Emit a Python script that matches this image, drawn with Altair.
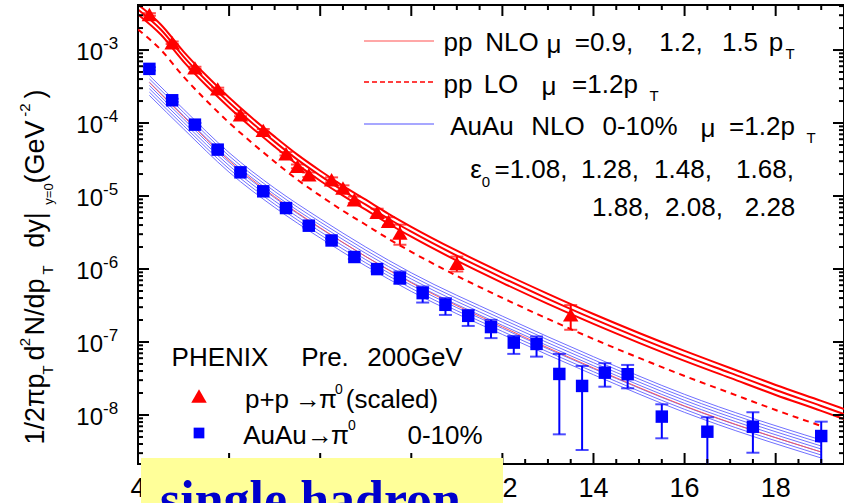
import altair as alt
import pandas as pd

# ---------------- data ----------------
nlo_pt = [4.0, 4.5, 5.0, 5.5, 6.0, 6.5, 7.0, 7.5, 8.0, 8.5, 9.0, 9.5, 10.0,
          11.0, 12.0, 13.0, 14.0, 15.0, 16.0, 17.0, 18.0, 19.0, 19.5]
nlo_mu09 = [4.20e-3, 2.24e-3, 9.53e-4, 4.47e-4, 2.24e-4, 1.18e-4, 6.51e-5, 3.69e-5,
            2.22e-5, 1.38e-5, 8.90e-6, 5.71e-6, 3.79e-6, 1.78e-6, 8.86e-7, 4.57e-7,
            2.42e-7, 1.33e-7, 7.55e-8, 4.41e-8, 2.58e-8, 1.56e-8, 1.21e-8]
nlo_mu12 = [3.59e-3, 1.91e-3, 8.14e-4, 3.82e-4, 1.91e-4, 1.01e-4, 5.56e-5, 3.15e-5,
            1.90e-5, 1.18e-5, 7.60e-6, 4.88e-6, 3.24e-6, 1.52e-6, 7.57e-7, 3.90e-7,
            2.07e-7, 1.14e-7, 6.45e-8, 3.77e-8, 2.20e-8, 1.33e-8, 1.03e-8]
nlo_mu15 = [3.07e-3, 1.63e-3, 6.95e-4, 3.26e-4, 1.63e-4, 8.63e-5, 4.75e-5, 2.69e-5,
            1.62e-5, 1.01e-5, 6.49e-6, 4.17e-6, 2.77e-6, 1.30e-6, 6.46e-7, 3.33e-7,
            1.77e-7, 9.74e-8, 5.51e-8, 3.22e-8, 1.88e-8, 1.14e-8, 8.80e-9]

lo_pt = [4.0, 4.5, 5.0, 5.5, 6.0, 6.5, 7.0, 7.5, 8.0, 8.5, 9.0, 9.5, 10.0,
         11.0, 12.0, 13.0, 14.0, 15.0, 16.0, 17.0, 18.0, 19.0]
lo_mu12 = [1.91e-3, 1.01e-3, 4.32e-4, 2.03e-4, 1.01e-4, 5.36e-5, 2.95e-5, 1.67e-5,
           1.01e-5, 6.27e-6, 4.04e-6, 2.59e-6, 1.72e-6, 8.07e-7, 4.02e-7, 2.07e-7,
           1.10e-7, 6.05e-8, 3.42e-8, 2.00e-8, 1.17e-8, 7.06e-9]

aa_pt = [4.25, 5.0, 6.0, 7.0, 8.0, 10.0, 12.0, 14.0, 16.0, 19.0]
aa_eps_labels = ["1.08", "1.28", "1.48", "1.68", "1.88", "2.08", "2.28"]
aa_e108 = [4.47e-4, 1.551e-4, 3.926e-5, 1.280e-5, 4.884e-6, 8.869e-7, 2.259e-7, 6.286e-8, 1.917e-8, 4.541e-9]
aa_e128 = [4.02e-4, 1.398e-4, 3.543e-5, 1.157e-5, 4.415e-6, 8.042e-7, 2.052e-7, 5.718e-8, 1.744e-8, 4.130e-9]
aa_e148 = [3.63e-4, 1.259e-4, 3.198e-5, 1.045e-5, 3.991e-6, 7.291e-7, 1.863e-7, 5.201e-8, 1.586e-8, 3.757e-9]
aa_e168 = [3.27e-4, 1.135e-4, 2.886e-5, 9.450e-6, 3.607e-6, 6.611e-7, 1.692e-7, 4.731e-8, 1.443e-8, 3.417e-9]
aa_e188 = [2.95e-4, 1.023e-4, 2.605e-5, 8.542e-6, 3.260e-6, 5.994e-7, 1.537e-7, 4.303e-8, 1.312e-8, 3.108e-9]
aa_e208 = [2.65e-4, 9.215e-5, 2.351e-5, 7.721e-6, 2.947e-6, 5.435e-7, 1.396e-7, 3.914e-8, 1.194e-8, 2.827e-9]
aa_e228 = [2.39e-4, 8.304e-5, 2.121e-5, 6.979e-6, 2.664e-6, 4.928e-7, 1.268e-7, 3.560e-8, 1.086e-8, 2.572e-9]
aa_ref = [3.58e-4, 1.224e-4, 3.05e-5, 9.78e-6, 3.67e-6, 6.47e-7, 1.61e-7, 4.41e-8, 1.33e-8, 3.11e-9]

pp_pt = [4.25, 4.75, 5.25, 5.75, 6.25, 6.75, 7.25, 7.5, 7.75, 8.25, 8.5, 8.75,
         9.25, 9.5, 9.75, 11.0, 13.5]
pp_val = [3.07e-3, 1.26e-3, 5.70e-4, 2.94e-4, 1.30e-4, 7.94e-5, 3.80e-5, 2.55e-5,
          1.96e-5, 1.67e-5, 1.29e-5, 8.9e-6, 5.96e-6, 4.49e-6, 3.1e-6, 1.2e-6, 2.35e-7]
pp_hi = [3.2e-3, 1.31e-3, 5.9e-4, 3.05e-4, 1.36e-4, 8.3e-5, 4.0e-5, 2.7e-5,
         2.1e-5, 1.8e-5, 1.4e-5, 9.8e-6, 6.7e-6, 5.1e-6, 4.05e-6, 1.48e-6, 3.2e-7]
pp_lo = [2.95e-3, 1.21e-3, 5.5e-4, 2.83e-4, 1.24e-4, 7.6e-5, 3.6e-5, 2.4e-5,
         1.82e-5, 1.54e-5, 1.18e-5, 8.0e-6, 5.2e-6, 3.9e-6, 2.15e-6, 9.24e-7, 1.47e-7]

au_pt = [4.25, 4.75, 5.25, 5.75, 6.25, 6.75, 7.25, 7.75, 8.25, 8.75, 9.25, 9.75,
         10.25, 10.75, 11.25, 11.75, 12.25, 12.75, 13.25, 13.75, 14.25, 14.75,
         15.5, 16.5, 17.5, 19.0]
au_val = [5.52e-4, 2.05e-4, 9.5e-5, 4.32e-5, 2.11e-5, 1.16e-5, 6.84e-6, 3.92e-6,
          2.46e-6, 1.46e-6, 9.97e-7, 7.5e-7, 4.67e-7, 3.23e-7, 2.28e-7, 1.6e-7,
          9.8e-8, 9.4e-8, 3.65e-8, 2.5e-8, 3.8e-8, 3.62e-8, 9.5e-9, 5.9e-9, 6.9e-9, 5.15e-9]
au_hi = [5.8e-4, 2.15e-4, 1.0e-4, 4.55e-5, 2.22e-5, 1.22e-5, 7.2e-6, 4.15e-6,
         2.6e-6, 1.55e-6, 1.07e-6, 9.24e-7, 5.75e-7, 3.99e-7, 2.75e-7, 2.01e-7,
         1.21e-7, 1.19e-7, 6.87e-8, 4.7e-8, 5.12e-8, 4.85e-8, 1.40e-8, 9.3e-9, 1.09e-8, 8.1e-9]
au_lo = [5.25e-4, 1.95e-4, 9.0e-5, 4.1e-5, 2.0e-5, 1.1e-5, 6.5e-6, 3.7e-6,
         2.32e-6, 1.37e-6, 9.3e-7, 6.27e-7, 3.47e-7, 2.35e-7, 1.66e-7, 1.13e-7,
         6.87e-8, 6.3e-8, 5.43e-9, 3.31e-9, 2.44e-8, 2.32e-8, 4.79e-9, 1.95e-9, 3.04e-9, 1.5e-9]

x_major = [4, 6, 8, 10, 12, 14, 16, 18]
y_decades = [1e-3, 1e-4, 1e-5, 1e-6, 1e-7, 1e-8]
y_exps = ["-3", "-4", "-5", "-6", "-7", "-8"]

# ---------------- layout ----------------
W, H = 706, 459
OX, OY = 138, 5
XDOM = [4, 19.5]
YDOM = [2.13e-9, 4.14e-3]
xs = alt.Scale(domain=XDOM, nice=False, zero=False)
ys = alt.Scale(type="log", domain=YDOM, nice=False)
FONT = "Liberation Sans"

def X(f="pt"):
    return alt.X(f + ":Q", scale=xs, axis=None)

def Y(f="v"):
    return alt.Y(f + ":Q", scale=ys, axis=None)

nlo_df = pd.DataFrame({
    "pt": nlo_pt * 3,
    "v": nlo_mu09 + nlo_mu12 + nlo_mu15,
    "s": ["0.9"] * len(nlo_pt) + ["1.2"] * len(nlo_pt) + ["1.5"] * len(nlo_pt),
})
lo_df = pd.DataFrame({"pt": lo_pt, "v": lo_mu12})
aa_rows = []
for lab, arr in zip(aa_eps_labels, [aa_e108, aa_e128, aa_e148, aa_e168, aa_e188, aa_e208, aa_e228]):
    for p, v in zip(aa_pt, arr):
        aa_rows.append({"pt": p, "v": v, "s": lab})
aa_df = pd.DataFrame(aa_rows)
ref_df = pd.DataFrame({"pt": aa_pt, "v": aa_ref})
pp_df = pd.DataFrame({"pt": pp_pt, "v": pp_val, "hi": pp_hi, "lo": pp_lo})
au_df = pd.DataFrame({"pt": au_pt, "v": au_val, "hi": au_hi, "lo": au_lo})

blue_lines = alt.Chart(aa_df).mark_line(color="#4a4aff", strokeWidth=0.8, clip=True,
                                        interpolate="monotone").encode(x=X(), y=Y(), detail="s:N")
ref_line = alt.Chart(ref_df).mark_line(color="#ff5050", strokeWidth=0.9, clip=True,
                                       interpolate="monotone").encode(x=X(), y=Y())
nlo_lines = alt.Chart(nlo_df).mark_line(color="#ff0000", strokeWidth=2, clip=True,
                                        interpolate="monotone").encode(x=X(), y=Y(), detail="s:N")
lo_line = alt.Chart(lo_df).mark_line(color="#ff0000", strokeWidth=2, strokeDash=[6, 5], clip=True,
                                     interpolate="monotone").encode(x=X(), y=Y())

def errbars(df, color):
    bars = alt.Chart(df).mark_rule(color=color, strokeWidth=2, clip=True).encode(
        x=X(), y=Y("lo"), y2="hi:Q")
    cap_hi = alt.Chart(df).mark_tick(color=color, orient="horizontal", size=13, thickness=2,
                                     clip=True).encode(x=X(), y=Y("hi"))
    cap_lo = alt.Chart(df).mark_tick(color=color, orient="horizontal", size=13, thickness=2,
                                     clip=True).encode(x=X(), y=Y("lo"))
    return [bars, cap_hi, cap_lo]

pp_pts = alt.Chart(pp_df).mark_point(shape="triangle-up", filled=True, size=240, color="#ff0000",
                                     opacity=1, clip=True).encode(x=X(), y=Y())
au_pts = alt.Chart(au_df).mark_point(shape="square", filled=True, size=155, color="#0000ff",
                                     opacity=1, clip=True).encode(x=X(), y=Y())

# frame ticks (pointing inside)
y_minor = [m * 10.0 ** k for k in range(-9, -2) for m in range(2, 10)
           if YDOM[0] <= m * 10.0 ** k <= YDOM[1]]
x_minor = [4 + 0.5 * i for i in range(32) if (4 + 0.5 * i) not in x_major]
ymaj_df = pd.DataFrame({"v": y_decades})
ymin_df = pd.DataFrame({"v": y_minor})
xmaj_df = pd.DataFrame({"pt": x_major})
xmin_df = pd.DataFrame({"pt": x_minor})

def yticks(df, ln):
    a = alt.Chart(df).mark_rule(color="black", strokeWidth=2).encode(
        y=Y(), x=alt.value(0), x2=alt.value(ln))
    b = alt.Chart(df).mark_rule(color="black", strokeWidth=2).encode(
        y=Y(), x=alt.value(W), x2=alt.value(W - ln))
    return [a, b]

def xticks(df, ln):
    a = alt.Chart(df).mark_rule(color="black", strokeWidth=2).encode(
        x=X(), y=alt.value(H), y2=alt.value(H - ln))
    b = alt.Chart(df).mark_rule(color="black", strokeWidth=2).encode(
        x=X(), y=alt.value(0), y2=alt.value(ln))
    return [a, b]

ticks = yticks(ymaj_df, 11) + yticks(ymin_df, 5) + xticks(xmaj_df, 11) + xticks(xmin_df, 5)

# tick labels
xlab_df = pd.DataFrame({"pt": x_major, "t": [str(v) for v in x_major]})
xlabels = alt.Chart(xlab_df).mark_text(font=FONT, fontSize=27, baseline="top",
                                       align="center").encode(x=X(), y=alt.value(H + 12), text="t:N")
ylab_df = pd.DataFrame({"v": y_decades, "e": y_exps})
ylab10 = alt.Chart(ylab_df).mark_text(font=FONT, fontSize=24, align="right", baseline="middle",
                                      dy=3, text="10").encode(y=Y(), x=alt.value(103 - OX))
ylabexp = alt.Chart(ylab_df).mark_text(font=FONT, fontSize=17, align="left", baseline="middle",
                                       dy=-6).encode(y=Y(), x=alt.value(103 - OX), text="e:N")

one = pd.DataFrame({"a": [0]})

def T(s, Xp, Yp, size=26, align="center", baseline="middle", angle=0, font=FONT,
      color="black", weight="normal"):
    return alt.Chart(one).mark_text(text=s, fontSize=size, font=font, align=align,
                                    baseline=baseline, angle=angle, color=color,
                                    fontWeight=weight).encode(
        x=alt.value(Xp - OX), y=alt.value(Yp - OY))

def SEG(X1, X2, Yp, color, width=1.5, dash=None):
    kw = {"color": color, "strokeWidth": width}
    if dash:
        kw["strokeDash"] = dash
    return alt.Chart(one).mark_rule(**kw).encode(
        x=alt.value(X1 - OX), x2=alt.value(X2 - OX), y=alt.value(Yp - OY))

# rotated y title, piece by piece (centre of each piece along the text)
def RT(s, xb, yc, size):
    return T(s, xb, yc, size, align="center", baseline="alphabetic", angle=270)

ytitle = [
    RT("1/2\u03c0p", 44, 409, 27),
    RT("T", 53, 370, 15),
    RT("d", 44, 353, 27),
    RT("2", 30, 342, 15),
    RT("N/dp", 44, 307, 27),
    RT("T", 53, 270, 15),
    RT("dy|", 44, 230, 27),
    RT("y=0", 53, 194, 13),
    RT("(GeV", 44, 152, 27),
    RT("-2", 30, 110, 15),
    RT(")", 44, 94, 27),
]

# top-right legend
LS = 26
leg = [
    SEG(364, 434, 41, "#ff8a8a", 1.5),
    SEG(364, 434, 82, "#ff0000", 1.5, [5, 3]),
    SEG(364, 434, 124, "#8a8aff", 1.5),
    T("pp", 458, 43, LS), T("NLO", 512, 43, LS),
    T("\u03bc", 554, 45, LS), T("=0.9,", 604, 43, LS),
    T("1.2,", 681, 43, LS), T("1.5", 740, 43, LS),
    T("p", 776, 43, LS), T("T", 790, 54, 15),
    T("pp", 458, 85, LS), T("LO", 501, 85, LS),
    T("\u03bc", 549, 87, LS), T("=1.2p", 605, 85, LS),
    T("T", 654, 96, 15),
    T("AuAu", 482, 127, LS), T("NLO", 558, 127, LS),
    T("0-10%", 640, 127, LS), T("\u03bc", 708, 129, LS),
    T("=1.2p", 762, 127, LS), T("T", 811, 138, 15),
    T("\u03b5", 476, 170, LS), T("0", 486, 182, 15),
    T("=1.08,", 531, 170, LS), T("1.28,", 610, 170, LS),
    T("1.48,", 683, 170, LS), T("1.68,", 765, 170, LS),
    T("1.88,", 621, 208, LS), T("2.08,", 694, 208, LS),
    T("2.28", 770, 208, LS),
]

# bottom-left legend
tri = alt.Chart(one).mark_point(shape="triangle-up", filled=True, size=240, color="#ff0000",
                                opacity=1).encode(x=alt.value(199 - OX), y=alt.value(396 - OY))
sq = alt.Chart(one).mark_point(shape="square", filled=True, size=115, color="#0000ff",
                               opacity=1).encode(x=alt.value(199 - OX), y=alt.value(433 - OY))
leg2 = [
    tri, sq,
    T("PHENIX", 220, 358, LS), T("Pre.", 325, 358, LS), T("200GeV", 415, 358, LS),
    T("p+p", 267, 400, LS), T("\u2192", 308, 400, LS), T("\u03c0", 328, 400, LS),
    T("0", 339, 390, 14), T("(scaled)", 392, 400, LS),
    T("AuAu", 275, 436, LS), T("\u2192", 320, 436, LS), T("\u03c0", 340, 436, LS),
    T("0", 352, 426, 14), T("0-10%", 445, 436, LS),
]

# yellow label box
box = alt.Chart(one).mark_rect(color="#ffff99").encode(
    x=alt.value(141 - OX), x2=alt.value(503 - OX), y=alt.value(458 - OY), y2=alt.value(510 - OY))
boxtxt = T("single hadron", 160, 517, 52, align="left", baseline="alphabetic",
           font="Liberation Serif", color="#0000cc", weight="bold")

layers = ([blue_lines, ref_line, nlo_lines, lo_line]
          + errbars(pp_df, "#ff0000") + errbars(au_df, "#0000ff")
          + [pp_pts, au_pts] + ticks + [xlabels, ylab10, ylabexp]
          + ytitle + leg + leg2 + [box, boxtxt])

chart = alt.layer(*layers).properties(
    width=W, height=H,
    padding={"left": OX, "top": OY, "right": 0, "bottom": 503 - OY - H},
    autosize=alt.AutoSizeParams(type="none"),
    background="white",
).configure_view(stroke="black", strokeWidth=2)

chart.save("out.html", embed_options={"renderer": "svg", "actions": False})
